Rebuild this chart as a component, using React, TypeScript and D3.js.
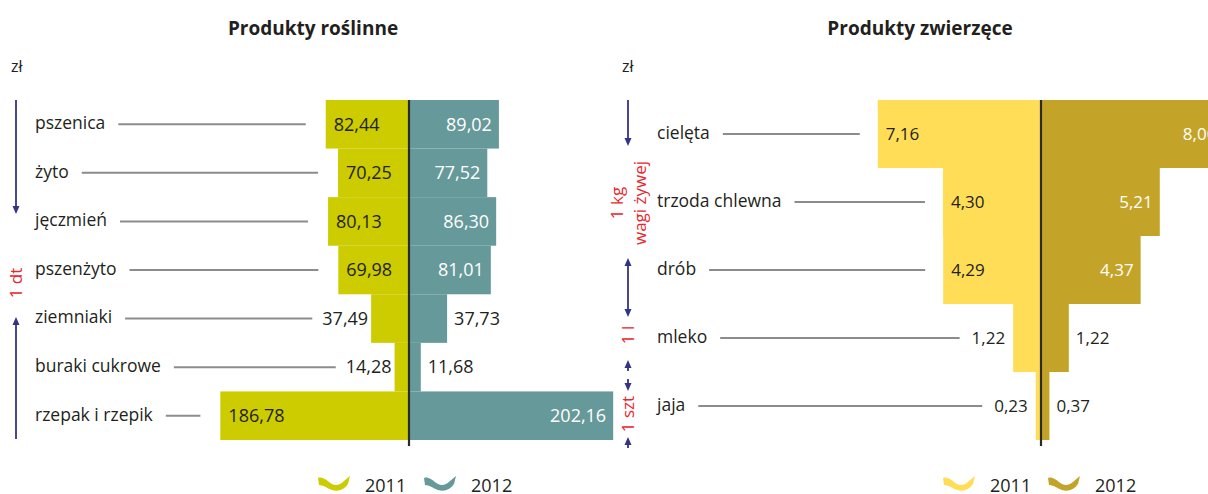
import React, { useEffect, useRef } from 'react';
import * as d3 from 'd3';

// Produkty roślinne (zł za 1 dt)
const plantCategories = ['pszenica', 'żyto', 'jęczmień', 'pszenżyto', 'ziemniaki', 'buraki cukrowe', 'rzepak i rzepik'];
const plant2011 = [82.44, 70.25, 80.13, 69.98, 37.49, 14.28, 186.78];
const plant2012 = [89.02, 77.52, 86.3, 81.01, 37.73, 11.68, 202.16];

// Produkty zwierzęce (zł za 1 kg / 1 l / 1 szt)
const animalCategories = ['cielęta', 'trzoda chlewna', 'drób', 'mleko', 'jaja'];
const animal2011 = [7.16, 4.3, 4.29, 1.22, 0.23];
const animal2012 = [8.0, 5.21, 4.37, 1.22, 0.37];

const years = ['2011', '2012'];

const plantColors = ['#cccc00', '#669999'];
const animalColors = ['#ffdd57', '#c4a428'];

const FONT = '"Open Sans", "Noto Sans", sans-serif';
const DARK = '#231f20';
const NAVY = '#333388';
const RED = '#e8262c';

const plFormat = d3.formatLocale({ decimal: ',', thousands: ' ', grouping: [3], currency: ['', ' zł'] }).format('.2f');

const drawPanel = (svg, p) => {
  const y = d3.scaleBand().domain(p.categories).range([100, 440]);
  const x = d3.scaleLinear().domain([0, 1]).range([0, p.pxPerUnit]);
  const g = svg.append('g');

  g.append('text')
    .attr('x', p.titleX)
    .attr('y', 35)
    .attr('text-anchor', 'middle')
    .attr('font-weight', 700)
    .attr('font-size', 19)
    .attr('fill', DARK)
    .text(p.title);

  g.append('text')
    .attr('x', p.zlX)
    .attr('y', 72)
    .attr('font-size', 16)
    .attr('fill', DARK)
    .text('zł');

  p.categories.forEach((c, i) => {
    const top = y(c);
    const h = y.bandwidth();
    const mid = top + h / 2;
    const a = p.v2011[i];
    const b = p.v2012[i];
    const wa = x(a);
    const wb = x(b);

    g.append('rect').attr('x', p.center - wa).attr('y', top).attr('width', wa).attr('height', h).attr('fill', p.colors[0]);
    g.append('rect').attr('x', p.center).attr('y', top).attr('width', wb).attr('height', h).attr('fill', p.colors[1]);

    // 2011 value
    let lineEnd;
    if (a >= p.threshold) {
      g.append('text')
        .attr('x', p.center - wa + 8)
        .attr('y', mid)
        .attr('dy', '0.35em')
        .attr('font-size', p.valueSize)
        .attr('fill', DARK)
        .text(plFormat(a));
      lineEnd = p.center - wa - p.gapIn;
    } else {
      const t = g.append('text')
        .attr('x', p.center - wa - p.outLeft)
        .attr('y', mid)
        .attr('dy', '0.35em')
        .attr('text-anchor', 'end')
        .attr('font-size', p.valueSize)
        .attr('fill', DARK)
        .text(plFormat(a));
      lineEnd = p.center - wa - p.outLeft - t.node().getComputedTextLength() - p.gapOut;
    }

    // 2012 value
    if (b >= p.threshold) {
      g.append('text')
        .attr('x', p.center + wb - 7)
        .attr('y', mid)
        .attr('dy', '0.35em')
        .attr('text-anchor', 'end')
        .attr('font-size', p.valueSize)
        .attr('fill', '#ffffff')
        .text(plFormat(b));
    } else {
      g.append('text')
        .attr('x', p.center + wb + 7)
        .attr('y', mid)
        .attr('dy', '0.35em')
        .attr('font-size', p.valueSize)
        .attr('fill', DARK)
        .text(plFormat(b));
    }

    // category + leader line
    const cat = g.append('text')
      .attr('x', p.catX)
      .attr('y', mid)
      .attr('dy', '0.28em')
      .attr('font-size', 17.5)
      .attr('fill', DARK)
      .text(c);
    const lineStart = p.catX + cat.node().getComputedTextLength() + 13;
    g.append('line')
      .attr('x1', lineStart)
      .attr('x2', lineEnd)
      .attr('y1', mid)
      .attr('y2', mid)
      .attr('stroke', '#8c8c8c')
      .attr('stroke-width', 2);
  });

  g.append('line')
    .attr('x1', p.center)
    .attr('x2', p.center)
    .attr('y1', 100)
    .attr('y2', 446)
    .attr('stroke', '#2b2b2b')
    .attr('stroke-width', 2.2);

  // legend
  years.forEach((yr, i) => {
    const lx = p.legendX + i * p.legendStep;
    g.append('path')
      .attr('transform', `translate(${lx}, 476)`)
      .attr('d', 'M0,2 C5,0 9,5 14,8 C18,10 22,9 26,5 L32,0 L30,8 C26,14 20,16 14,14 C9,12 5,9 1,9 Z')
      .attr('fill', p.colors[i]);
    g.append('text')
      .attr('x', lx + 47)
      .attr('y', 492)
      .attr('font-size', 18)
      .attr('fill', DARK)
      .text(yr);
  });
};

const arrowHead = (g, x, tipY, dir) => {
  // dir 1 = pointing down, -1 = pointing up
  g.append('path')
    .attr('d', `M${x - 3.5},${tipY - dir * 8} L${x + 3.5},${tipY - dir * 8} L${x},${tipY} Z`)
    .attr('fill', NAVY);
};

const stem = (g, x, y1, y2) => {
  g.append('line')
    .attr('x1', x).attr('x2', x)
    .attr('y1', y1).attr('y2', y2)
    .attr('stroke', NAVY)
    .attr('stroke-width', 1.8);
};

const rotatedLabel = (g, x, y, txt) => {
  g.append('text')
    .attr('transform', `translate(${x}, ${y}) rotate(-90)`)
    .attr('text-anchor', 'middle')
    .attr('dy', '0.35em')
    .attr('font-size', 17)
    .attr('fill', RED)
    .text(txt);
};

const App = () => {
  const svgRef = useRef(null);

  useEffect(() => {
    if (!svgRef.current) return;
    const svg = d3.select(svgRef.current);
    svg.selectAll('*').remove();

    drawPanel(svg, {
      categories: plantCategories,
      v2011: plant2011,
      v2012: plant2012,
      colors: plantColors,
      center: 409,
      pxPerUnit: 1.01,
      threshold: 50,
      valueSize: 18,
      title: 'Produkty roślinne',
      titleX: 313,
      zlX: 11,
      catX: 35,
      gapIn: 20,
      gapOut: 10,
      outLeft: 3,
      legendX: 318,
      legendStep: 106,
    });

    drawPanel(svg, {
      categories: animalCategories,
      v2011: animal2011,
      v2012: animal2012,
      colors: animalColors,
      center: 1041,
      pxPerUnit: 22.8,
      threshold: 2,
      valueSize: 17,
      title: 'Produkty zwierzęce',
      titleX: 920,
      zlX: 622,
      catX: 657,
      gapIn: 18,
      gapOut: 12,
      outLeft: 8,
      legendX: 943,
      legendStep: 105,
    });

    // unit annotations
    const ann = svg.append('g');
    // left: 1 dt
    stem(ann, 16, 100, 207);
    arrowHead(ann, 16, 214, 1);
    rotatedLabel(ann, 16, 283, '1 dt');
    stem(ann, 16, 323, 439);
    arrowHead(ann, 16, 317, -1);

    // right: 1 kg wagi żywej
    stem(ann, 628, 100, 139);
    arrowHead(ann, 628, 146, 1);
    rotatedLabel(ann, 617, 203, '1 kg');
    rotatedLabel(ann, 640, 203, 'wagi żywej');
    stem(ann, 628, 264, 311);
    arrowHead(ann, 628, 258, -1);
    arrowHead(ann, 628, 317, 1);

    // 1 l
    rotatedLabel(ann, 628, 335, '1 l');
    stem(ann, 628, 365, 371);
    arrowHead(ann, 628, 360, -1);
    stem(ann, 628, 379, 385);
    arrowHead(ann, 628, 391, 1);

    // 1 szt
    rotatedLabel(ann, 628, 414, '1 szt');
    stem(ann, 628, 442, 448);
    arrowHead(ann, 628, 437, -1);
  }, []);

  return (
    <svg
      ref={svgRef}
      width={1208}
      height={494}
      style={{ position: 'absolute', left: 0, top: 0, background: '#ffffff', fontFamily: FONT, overflow: 'hidden' }}
    />
  );
};

export default App;
